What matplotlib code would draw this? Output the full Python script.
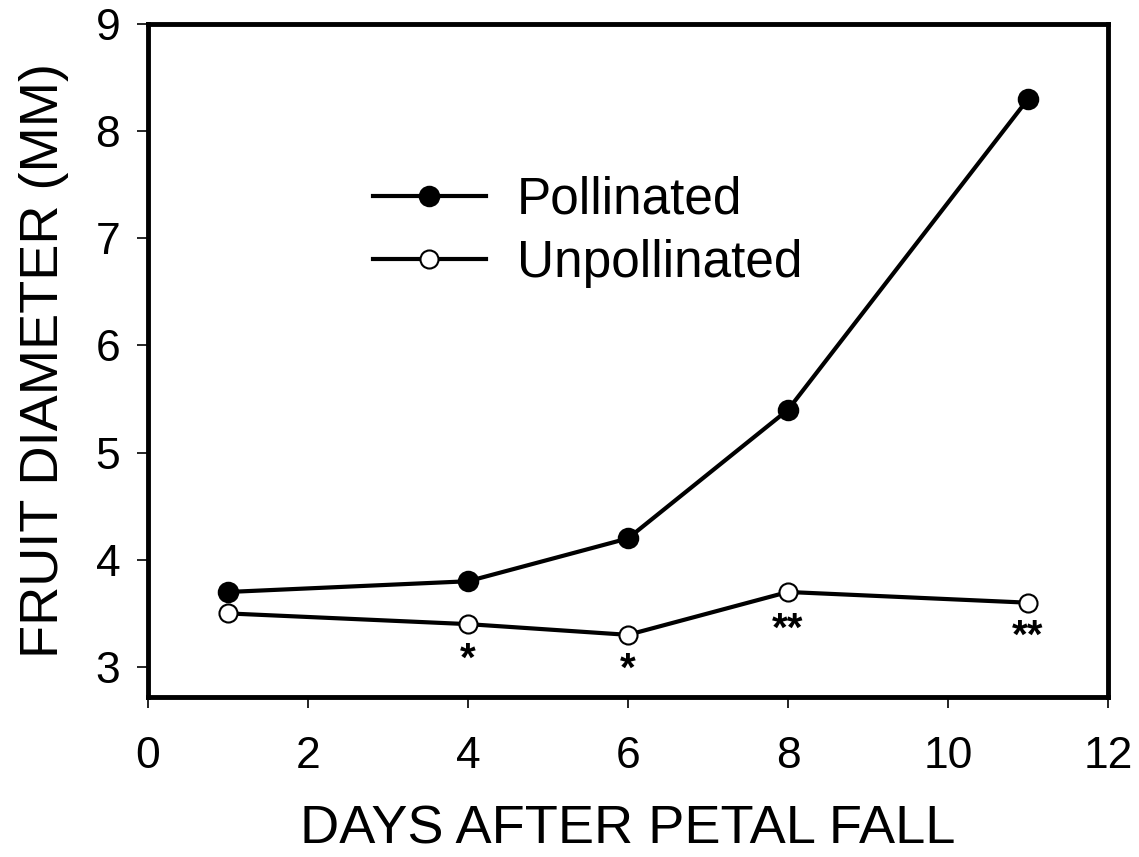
import matplotlib
matplotlib.use("Agg")
import matplotlib.pyplot as plt

plt.rcParams['font.family'] = ['Liberation Sans', 'DejaVu Sans']

days = [1, 4, 6, 8, 11]
pollinated = [3.7, 3.8, 4.2, 5.4, 8.3]
unpollinated = [3.5, 3.4, 3.3, 3.7, 3.6]

# significance marks
sig_x = [4, 6, 8, 11]
sig_y = [3.07, 2.97, 3.35, 3.28]
sig_txt = ['*', '*', '**', '**']

fig = plt.figure(figsize=(11.39, 8.57), dpi=100)
ax = fig.add_axes([148 / 1139, 1 - 697 / 857, (1108 - 148) / 1139, (697 - 24) / 857])

ax.plot(days, pollinated, '-o', color='black', lw=3, ms=14, mfc='black',
        mec='black', mew=1.5, label='Pollinated')
ax.plot(days, unpollinated, '-o', color='black', lw=3, ms=13, mfc='white',
        mec='black', mew=1.5, label='Unpollinated')

for x, y, t in zip(sig_x, sig_y, sig_txt):
    ax.text(x, y, t, ha='center', va='center', fontsize=29, fontweight='bold')

ax.set_xlim(0, 12)
ax.set_ylim(2.72, 9)
ax.set_xticks(range(0, 13, 2))
ax.set_yticks(range(3, 10))

for s in ax.spines.values():
    s.set_linewidth(3.5)
ax.tick_params(direction='out', length=8, width=1.2, labelsize=32)
ax.tick_params(axis='y', pad=12)
ax.tick_params(axis='x', pad=20)

ax.set_xlabel('DAYS AFTER PETAL FALL', fontsize=39, labelpad=20)
ax.set_ylabel('FRUIT DIAMETER (MM)', fontsize=39, labelpad=19)

ax.legend(loc='upper left', bbox_to_anchor=(0.186, 0.843), frameon=False,
          fontsize=37, handlelength=2.2, handletextpad=0.6, labelspacing=0.28)

fig.savefig('out.png', dpi=100)
